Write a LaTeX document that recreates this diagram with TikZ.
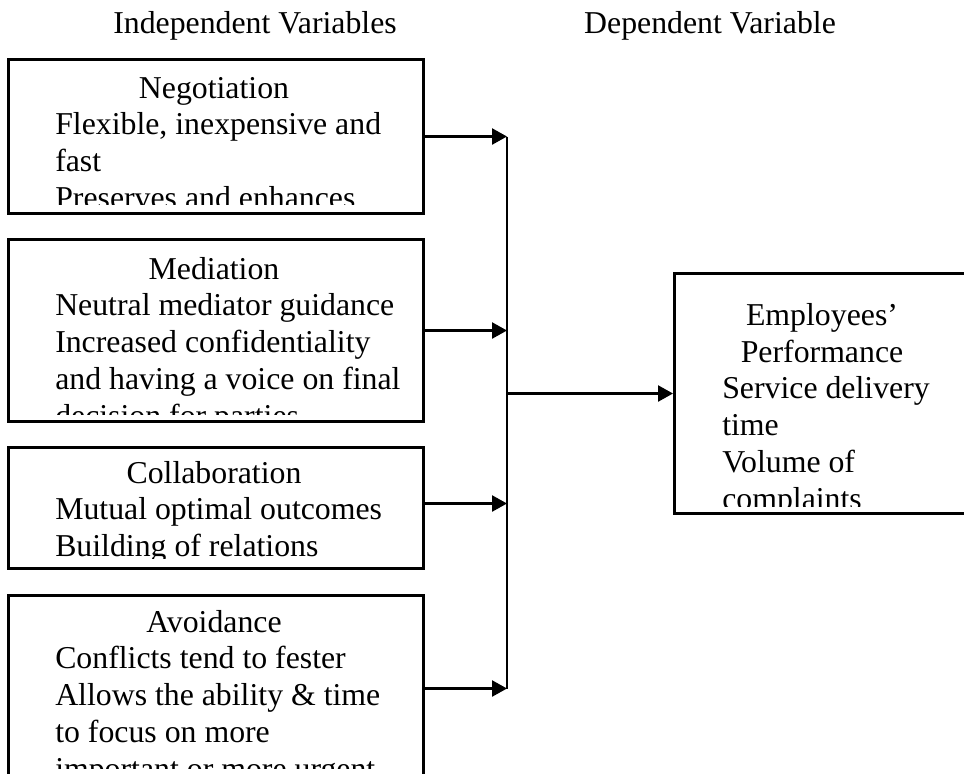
\documentclass[tikz,border=0pt]{standalone}
\usepackage{fontspec}
\setmainfont{Liberation Serif}
\usetikzlibrary{arrows.meta}

\begin{document}
\begin{tikzpicture}[x=0.5pt,y=-0.5pt,->,>={Triangle[length=7.5pt,width=8pt]},
  line width=1.25pt,font=\fontsize{15.9pt}{18.35pt}\selectfont,
  var box/.style={draw,-,line width=1.5pt,anchor=north west,inner sep=0pt,minimum width=207.5pt},
  title text/.style={anchor=base,inner sep=0pt,align=center},
  body text/.style={anchor=base west,inner sep=0pt,align=left}]

  \clip (0,0) rectangle (964,773);

  % headings
  \node[title text] (indep) at (255,33) {Independent Variables};
  \node[title text] (dep) at (710,33) {Dependent Variable};

  % independent variables
  \node[var box,minimum height=77pt] (neg) at (7,58) {};
  \node[var box,minimum height=91pt] (med) at (7,238) {};
  \node[var box,minimum height=60.5pt] (col) at (7,446) {};
  \node[var box,minimum height=93pt] (avo) at (7,594) {};

  % dependent variable
  \node[var box,minimum width=149pt,minimum height=120pt] (perf) at (673,272) {};

  % texts, placed at the baseline of their last line
  \begin{scope}
    \clip (neg.north west) rectangle ([yshift=5.25pt]neg.south east);
    \node[title text] (negt) at (214,98) {Negotiation};
    \node[body text] (negb) at (54,208) {Flexible, inexpensive and\\fast\\Preserves and enhances};
  \end{scope}

  \begin{scope}
    \clip (med.north west) rectangle ([yshift=4.25pt]med.south east);
    \node[title text] (medt) at (214,279) {Mediation};
    \node[body text] (medb) at (54,426) {Neutral mediator guidance\\Increased confidentiality\\and having a voice on final\\decision for parties};
  \end{scope}

  \begin{scope}
    \clip (col.north west) rectangle ([yshift=6pt]col.south east);
    \node[title text] (colt) at (214,483) {Collaboration};
    \node[body text] (colb) at (54,556) {Mutual optimal outcomes\\Building of relations};
  \end{scope}

  \begin{scope}
    \clip (avo.north west) rectangle ([yshift=7.25pt]avo.south east);
    \node[title text] (avot) at (214,632) {Avoidance};
    \node[body text] (avob) at (54,779) {Conflicts tend to fester\\Allows the ability \& time\\to focus on more\\important or more urgent};
  \end{scope}

  \begin{scope}
    \clip (perf.north west) rectangle ([yshift=4.25pt]perf.south east);
    \node[title text] (perft) at (822,362.5) {Employees’\\Performance};
    \node[body text] (perfb) at (721,509) {Service delivery\\time\\Volume of\\complaints};
  \end{scope}

  % connectors
  \coordinate (spine) at (507,0);
  \draw (neg.east) -- (neg.east -| spine);
  \draw (med.east) -- (med.east -| spine);
  \draw ([yshift=2.25pt]col.east) -- ([yshift=2.25pt]col.east -| spine);
  \draw (avo.east) -- (avo.east -| spine);
  \draw[-] (neg.east -| spine) -- (avo.east -| spine);
  \draw (perf.west -| spine) -- (perf.west);
\end{tikzpicture}
\end{document}
